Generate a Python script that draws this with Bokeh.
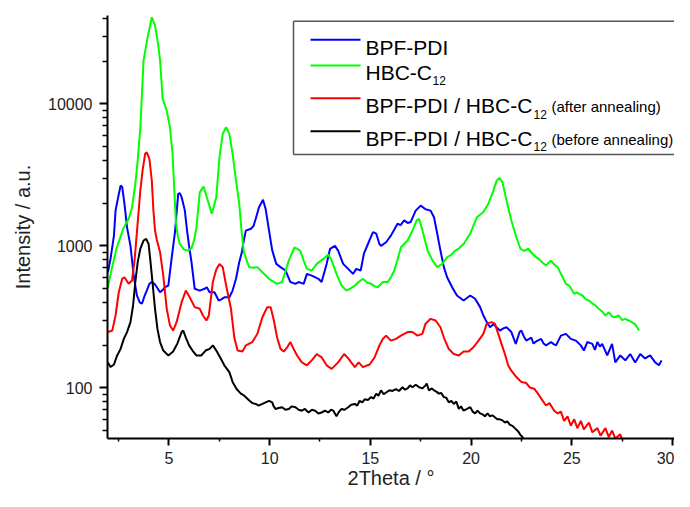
import math
from bokeh.plotting import figure
from bokeh.models import Range1d, FixedTicker, PrintfTickFormatter, BoxAnnotation, Label, Arrow, ColumnDataSource
from bokeh.embed import file_html
from bokeh.resources import INLINE

# ---------------- data ----------------
bpf_x = [1.97, 2.1, 2.27, 2.35, 2.43, 2.6, 2.68, 2.79, 2.92, 3.09, 3.25, 3.41, 3.55, 3.66, 3.78, 3.9, 4.03, 4.15,
         4.28, 4.4, 4.56, 4.7, 4.81, 4.97, 5.13, 5.3, 5.46, 5.54, 5.63, 5.71, 5.79, 5.9, 6.0, 6.12, 6.28, 6.53, 6.77,
         6.88, 7.02, 7.26, 7.47, 7.6, 7.75, 8.0, 8.16, 8.33, 8.49, 8.62, 8.72, 8.82, 9.07, 9.2, 9.31, 9.47, 9.67, 9.8,
         9.97, 10.13, 10.33, 10.54, 10.79, 11.03, 11.28, 11.44, 11.69, 11.85, 12.09, 12.42, 12.58, 12.83, 13.0, 13.24,
         13.4, 13.65, 13.9, 14.14, 14.3, 14.52, 14.68, 14.88, 15.13, 15.29, 15.45, 15.53, 15.78, 16.02, 16.35, 16.5,
         16.68, 16.85, 17.0, 17.25, 17.5, 17.74, 17.99, 18.16, 18.32, 18.48, 18.65, 18.81, 19.06, 19.3, 19.63, 19.96,
         20.2, 20.45, 20.61, 20.78, 20.94, 21.1, 21.18, 21.43, 21.6, 21.76, 22.0, 22.22, 22.41, 22.5, 22.62, 22.74,
         22.99, 23.1, 23.23, 23.48, 23.6, 23.72, 23.97, 24.1, 24.22, 24.46, 24.71, 24.95, 25.2, 25.45, 25.6, 25.77,
         26.02, 26.15, 26.27, 26.4, 26.51, 26.76, 27.0, 27.16, 27.41, 27.66, 27.9, 28.15, 28.4, 28.64, 28.89, 29.14,
         29.33, 29.46]
bpf_y = [652, 809, 1180, 1770, 2030, 2660, 2600, 1990, 1350, 1000, 617, 447, 400, 391, 440, 484, 540, 556,
         540, 511, 471, 490, 511, 525, 809, 1250, 2320, 2350, 2200, 1980, 1770, 1280, 1000, 767, 498, 484, 498,
         511, 471, 471, 412, 420, 434, 434, 484, 586, 767, 900, 1100, 1280, 1320, 1380, 1550, 1870, 2110, 1820,
         1280, 926, 746, 708, 670, 556, 540, 556, 540, 634, 617, 586, 556, 746, 953, 1000,
         926, 746, 688, 634, 688, 670, 880, 1030, 1250, 1220, 1030, 1000, 1060, 1180, 1430, 1400,
         1510, 1450, 1470, 1770, 1920, 1810, 1770, 1590, 1220, 926, 708, 601, 511, 447, 412, 447,
         424, 370, 323, 290, 267, 280, 274, 253, 262, 267, 247, 204, 247, 253, 230, 215,
         226, 205, 212, 221, 205, 199, 210, 203, 199, 233, 240, 221, 215, 199, 183, 210,
         204, 185, 210, 195, 204, 169, 204, 151, 169, 156, 173, 151, 173, 161, 169, 151,
         144, 156]

hbc_x = [1.97, 2.15, 2.4, 2.73, 3.0, 3.17, 3.33, 3.45, 3.58, 3.74, 3.94, 4.15, 4.31, 4.45, 4.56, 4.69, 4.89, 5.05,
         5.18, 5.25, 5.35, 5.45, 5.54, 5.75, 5.95, 6.12, 6.25, 6.36, 6.53, 6.72, 6.93, 7.13, 7.35, 7.51, 7.67, 7.84,
         8.0, 8.16, 8.33, 8.49, 8.6, 8.72, 8.98, 9.2, 9.39, 9.64, 9.97, 10.37, 10.62, 10.95, 11.24, 11.52, 11.69,
         11.85, 12.09, 12.34, 12.67, 12.91, 13.08, 13.32, 13.57, 13.81, 14.0, 14.23, 14.45, 14.63, 14.85, 15.04,
         15.2, 15.37, 15.62, 15.86, 16.02, 16.19, 16.35, 16.52, 16.85, 17.09, 17.3, 17.42, 17.59, 17.84, 18.09,
         18.32, 18.57, 18.82, 19.0, 19.22, 19.4, 19.63, 19.96, 20.29, 20.61, 20.86, 21.11, 21.27, 21.4, 21.56,
         21.76, 22.0, 22.25, 22.45, 22.65, 22.83, 23.05, 23.23, 23.4, 23.55, 23.72, 23.85, 23.97, 24.12, 24.3,
         24.45, 24.55, 24.71, 24.87, 25.0, 25.12, 25.25, 25.36, 25.53, 25.7, 25.85, 26.0, 26.18, 26.34, 26.5,
         26.67, 26.84, 27.0, 27.16, 27.33, 27.5, 27.65, 27.82, 27.98, 28.15, 28.34]
hbc_y = [510, 680, 960, 1320, 1550, 1870, 2720, 4000, 6830, 20200, 29400, 40700, 35600, 27000, 20200, 10800, 8970, 6840,
         4450, 2750, 1440, 1150, 1030, 940, 926, 960, 1100, 1320, 2380, 2620, 2085, 1680, 2200, 4210, 6150, 6840,
         6150, 4450, 2880, 1980, 1300, 900, 708, 700, 708, 652, 586, 540, 556, 787, 977, 926, 787,
         688, 670, 746, 809, 869, 787, 634, 525, 484, 500, 525, 560, 586, 550, 540,
         520, 511, 556, 556, 600, 670, 800, 977, 1090, 1280, 1510, 1550, 1280, 926, 787,
         708, 746, 832, 860, 926, 960, 1030, 1220, 1590, 1730, 1980, 2450, 2880, 3010, 2800,
         2085, 1510, 1150, 953, 920, 953, 880, 832, 800, 760, 726, 760, 787, 740, 708,
         640, 601, 540, 525, 490, 459, 470, 459, 447, 420, 412, 395, 380, 360, 345,
         323, 340, 318, 314, 323, 300, 306, 298, 290, 280, 253]

after_x = [1.97, 2.19, 2.35, 2.51, 2.68, 2.79, 3.0, 3.17, 3.3, 3.41, 3.58, 3.69, 3.82, 3.9, 4.03, 4.15, 4.23, 4.31,
           4.4, 4.56, 4.72, 4.89, 5.05, 5.21, 5.38, 5.63, 5.84, 6.03, 6.28, 6.53, 6.69, 6.86, 6.98, 7.18, 7.35, 7.51,
           7.67, 7.84, 8.08, 8.25, 8.41, 8.65, 8.82, 9.14, 9.39, 9.64, 9.88, 10.05, 10.21, 10.37, 10.54, 10.7, 10.87,
           11.03, 11.19, 11.36, 11.6, 11.85, 12.09, 12.34, 12.58, 12.83, 13.08, 13.4, 13.7, 13.9, 14.23, 14.42, 14.63,
           14.96, 15.21, 15.45, 15.62, 15.78, 16.02, 16.27, 16.52, 16.85, 17.09, 17.34, 17.58, 17.74, 17.99, 18.24,
           18.48, 18.65, 18.89, 19.14, 19.39, 19.63, 19.88, 20.12, 20.37, 20.61, 20.78, 21.02, 21.18, 21.35, 21.51,
           21.68, 21.84, 22.0, 22.25, 22.41, 22.5, 22.74, 22.9, 23.15, 23.32, 23.48, 23.72, 23.89, 24.13, 24.3, 24.46,
           24.62, 24.79, 24.95, 25.12, 25.28, 25.45, 25.6, 25.85, 26.02, 26.27, 26.43, 26.67, 26.84, 27.0, 27.16,
           27.41, 27.55, 27.7, 27.9, 28.1]
after_y = [247, 253, 323, 471, 586, 601, 540, 570, 809, 1250, 2450, 3390, 4450, 4560, 4100, 2880, 1770, 1280,
           1100, 902, 617, 360, 275, 253, 290, 401, 484, 434, 370, 360, 323, 298, 323, 556, 680, 746,
           708, 525, 360, 224, 183, 180, 199, 210, 240, 314, 370, 370, 298, 226, 188, 180, 193,
           210, 188, 169, 151, 144, 156, 173, 164, 144, 136, 151, 173, 161, 140, 151, 140,
           146, 164, 199, 221, 233, 215, 221, 233, 247, 247, 233, 240, 283, 306, 298,
           267, 226, 188, 173, 169, 180, 180, 193, 215, 240, 283, 290, 283, 240, 204,
           173, 144, 132, 119, 113, 110, 108, 101, 98, 91, 84, 75, 78, 69, 66, 68,
           58.5, 63, 54, 60, 52, 58.5, 51, 57, 48.6, 52, 46, 52, 45, 50, 44,
           47, 41, 43, 40, 38]

before_x = [1.97, 2.1, 2.27, 2.43, 2.6, 2.76, 2.92, 3.09, 3.22, 3.33, 3.45, 3.58, 3.74, 3.87, 3.99, 4.07, 4.2, 4.31,
            4.43, 4.56, 4.72, 4.97, 5.21, 5.41, 5.63, 5.71, 5.84, 6.0, 6.17, 6.36, 6.61, 6.82, 7.02, 7.18, 7.35, 7.54,
            7.75, 8.0, 8.16, 8.36, 8.57, 8.74, 9.0, 9.15, 9.31, 9.45, 9.64, 9.8, 9.97, 10.13, 10.2, 10.29, 10.45,
            10.62, 10.78, 10.95, 11.1, 11.28, 11.44, 11.6, 11.75, 11.93, 12.1, 12.26, 12.42, 12.58, 12.75, 12.91,
            13.05, 13.16, 13.32, 13.45, 13.57, 13.72, 13.9, 14.05, 14.23, 14.35, 14.47, 14.6, 14.72, 14.88, 15.04,
            15.16, 15.29, 15.4, 15.53, 15.66, 15.8, 15.95, 16.1, 16.27, 16.42, 16.6, 16.72, 16.85, 16.97, 17.09,
            17.25, 17.42, 17.58, 17.74, 17.8, 17.91, 18.05, 18.16, 18.28, 18.4, 18.52, 18.65, 18.77, 18.89, 19.02,
            19.14, 19.27, 19.39, 19.5, 19.63, 19.8, 19.96, 20.08, 20.2, 20.32, 20.45, 20.57, 20.69, 20.82, 20.94,
            21.06, 21.18, 21.3, 21.43, 21.55, 21.68, 21.8, 21.92, 22.05, 22.17, 22.33, 22.45, 22.55, 22.66, 22.8]
before_y = [151, 140, 146, 169, 188, 221, 247, 290, 380, 556, 767, 953, 1090, 1120, 1030, 809, 525, 360,
            260, 210, 183, 169, 180, 204, 247, 253, 226, 199, 183, 169, 169, 183, 188, 199, 183, 164,
            144, 129, 110, 98, 91, 88, 81, 78, 77, 75, 77, 79, 81, 79, 74, 71, 72,
            73, 70, 71, 74, 73, 70, 69, 71, 67, 70, 69, 66, 67, 69, 67,
            70, 69, 63, 68, 71, 70, 73, 76, 77, 75, 81, 79, 83, 82, 86,
            84, 91, 88, 96, 90, 93, 96, 95, 98, 95, 101, 97, 99, 104, 101,
            105, 101, 99, 104, 107, 96, 99, 96, 94, 91, 92, 86, 85, 79, 81,
            77, 80, 71, 74, 69, 71, 73, 68, 66, 69, 66, 65, 63, 66, 63,
            64, 62, 60, 60, 59, 57, 58, 55, 54, 52, 49.5, 46.6, 45, 42, 39]

series_colors = ["#0000FF", "#00FF00", "#FF0000", "#000000"]

x_ticks = [5, 10, 15, 20, 25, 30]
x_minor = [2.5, 7.5, 12.5, 17.5, 22.5, 27.5]
y_ticks = [100, 1000, 10000]
y_minor = [50, 60, 70, 80, 90, 200, 300, 400, 500, 600, 700, 800, 900,
           2000, 3000, 4000, 5000, 6000, 7000, 8000, 9000, 20000, 30000, 40000]

# ---------------- figure ----------------
W, H = 674, 491
FL, FT, FB = 107, 15, 438          # frame edges in canvas pixels
FR = W
X_START, X_END = 1.95, 30.1
Y_END = 41900.0
Y_START = 10 ** (4 - (FB - 103.3) / 142.0)
FONT = "Liberation Sans"

p = figure(width=W, height=H, output_backend="svg", toolbar_location=None,
           x_range=Range1d(X_START, X_END), y_range=Range1d(Y_START, Y_END),
           y_axis_type="log",
           min_border_left=FL, min_border_right=0, min_border_top=FT, min_border_bottom=H - FB)
p.outline_line_color = None
p.xgrid.visible = False
p.ygrid.visible = False
p.background_fill_color = "white"
p.border_fill_color = "white"

for xs, ys, col in zip([bpf_x, hbc_x, after_x, before_x], [bpf_y, hbc_y, after_y, before_y], series_colors):
    src = ColumnDataSource(dict(x=xs, y=ys))
    p.line("x", "y", source=src, line_color=col, line_width=2)

p.xaxis.ticker = FixedTicker(ticks=x_ticks, minor_ticks=x_minor)
p.yaxis.ticker = FixedTicker(ticks=y_ticks, minor_ticks=y_minor)
p.yaxis.formatter = PrintfTickFormatter(format="%d")

for ax in (p.xaxis[0], p.yaxis[0]):
    ax.axis_line_width = 2
    ax.axis_line_color = "black"
    ax.major_tick_line_width = 2
    ax.minor_tick_line_width = 1.5
    ax.major_tick_in = 0
    ax.minor_tick_in = 0
    ax.major_label_text_font = FONT
    ax.major_label_text_font_size = "16px"
    ax.major_label_text_color = "#222222"
    ax.axis_label_text_font = FONT
    ax.axis_label_text_font_size = "20px"
    ax.axis_label_text_font_style = "normal"
    ax.axis_label_text_color = "#222222"

p.xaxis.major_tick_out = 7
p.xaxis.minor_tick_out = 3
p.xaxis.major_label_standoff = 6
p.xaxis.axis_label = "2Theta / °"
p.xaxis.axis_label_standoff = 0

p.yaxis.major_tick_out = 8
p.yaxis.minor_tick_out = 5
p.yaxis.major_label_standoff = 7
p.yaxis.axis_label = "Intensity / a.u."
p.yaxis.axis_label_standoff = 11

# ---------------- legend (drawn by hand, for the subscripts) ----------------


def sx(px):
    return X_START + (px - FL) * (X_END - X_START) / (FR - FL)


def sy(py):
    lt, lb = math.log10(Y_END), math.log10(Y_START)
    return 10 ** (lt - (py - FT) * (lt - lb) / (FB - FT))


BOX_L, BOX_T, BOX_B = 293, 20.7, 154
p.add_layout(BoxAnnotation(left=sx(BOX_L), right=sx(FR + 40), top=sy(BOX_T), bottom=sy(BOX_B),
                           fill_color="white", fill_alpha=1.0, line_color=None))
for (x0, y0, x1, y1) in [(BOX_L, BOX_T, FR + 40, BOX_T), (BOX_L, BOX_B, FR + 40, BOX_B), (BOX_L, BOX_T, BOX_L, BOX_B)]:
    p.add_layout(Arrow(end=None, x_start=sx(x0), y_start=sy(y0), x_end=sx(x1), y_end=sy(y1),
                       line_color="#555555", line_width=1.5))

rows = [
    # (sample-line y, baseline y, main text, subscript x, note)
    (39.3, 46.7, "BPF-PDI", None, None),
    (65.0, 71.7, "HBC-C", 432, None),
    (97.7, 105.0, "BPF-PDI / HBC-C", 533, "(after annealing)"),
    (130.7, 137.7, "BPF-PDI / HBC-C", 533, "(before annealing)"),
]
for (ly, by, txt, subx, note), col in zip(rows, series_colors):
    p.add_layout(Arrow(end=None, x_start=sx(310), y_start=sy(ly), x_end=sx(360), y_end=sy(ly),
                       line_color=col, line_width=2))
    p.add_layout(Label(x=sx(365), y=sy(by), text=txt, text_font=FONT, text_font_size="21px",
                       text_baseline="alphabetic", text_align="left", text_color="black"))
    if subx is not None:
        p.add_layout(Label(x=sx(subx), y=sy(by + 8.5), text="12", text_font=FONT, text_font_size="12px",
                           text_baseline="alphabetic", text_align="left", text_color="black"))
    if note is not None:
        p.add_layout(Label(x=sx(551), y=sy(by + 0.8), text=note, text_font=FONT, text_font_size="15px",
                           text_baseline="alphabetic", text_align="left", text_color="black"))

open("out.html", "w").write(file_html(p, INLINE))
